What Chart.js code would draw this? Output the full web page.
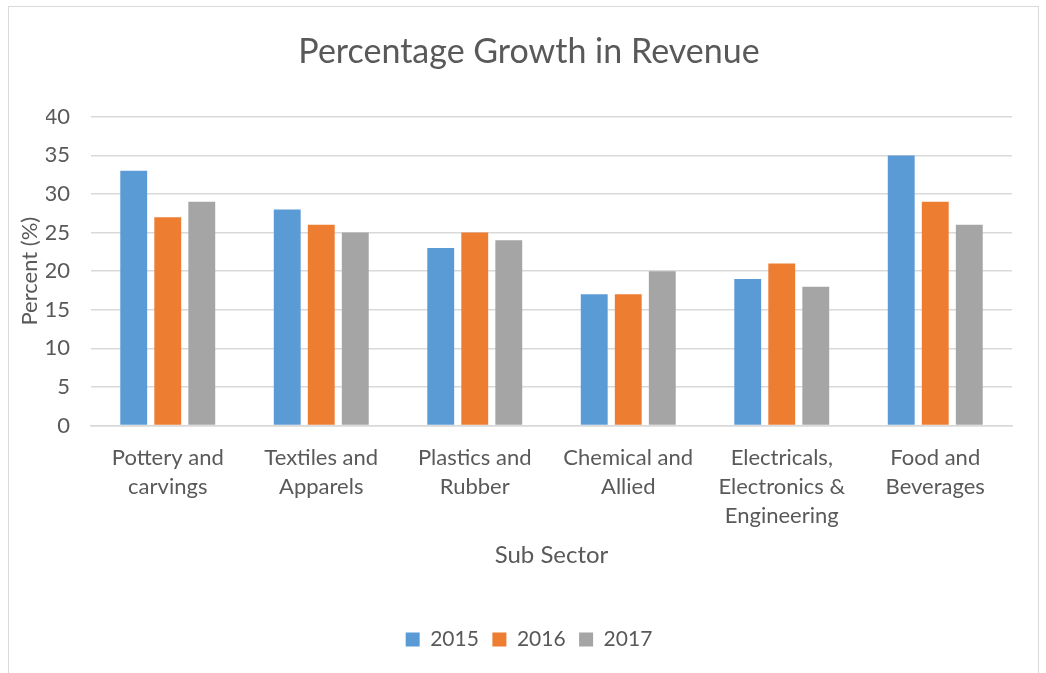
<!DOCTYPE html>
<html>
<head>
<meta charset="utf-8">
<script src="https://cdn.jsdelivr.net/npm/chart.js@4"></script>
<style>
  html, body { margin: 0; padding: 0; background: #fff; overflow: hidden; }
  #frame { position: absolute; left: 8px; top: 6px; width: 1031px; height: 700px; border: 1.5px solid #d9d9d9; box-sizing: border-box; }
  #wrap { position: absolute; left: 0; top: 0; width: 1046px; height: 673px; }
</style>
</head>
<body>
<div id="frame"></div>
<div id="wrap"><canvas id="revenueChart"></canvas></div>
<script>
// Growth in revenue per sub sector, by year
const sectors = [
  ['Pottery and', 'carvings'],
  ['Textiles and', 'Apparels'],
  ['Plastics and', 'Rubber'],
  ['Chemical and', 'Allied'],
  ['Electricals,', 'Electronics &', 'Engineering'],
  ['Food and', 'Beverages']
];
const years = ['2015', '2016', '2017'];
const growth2015 = [33, 28, 23, 17, 19, 35];
const growth2016 = [27, 26, 25, 17, 21, 29];
const growth2017 = [29, 25, 24, 20, 18, 26];
const yTicks = [0, 5, 10, 15, 20, 25, 30, 35, 40];

const textColor = '#595959';
const gridColor = '#d9d9d9';
const fontFamily = 'Lato, "Open Sans", sans-serif';

// y axis title sits out in the left margin, so the axis itself can stay narrow
const yTitlePlugin = {
  id: 'yTitle',
  afterDraw(chart) {
    const { ctx, chartArea } = chart;
    ctx.save();
    ctx.translate(30, (chartArea.top + chartArea.bottom) / 2);
    ctx.rotate(-Math.PI / 2);
    ctx.fillStyle = textColor;
    ctx.font = '22px ' + fontFamily;
    ctx.textAlign = 'center';
    ctx.textBaseline = 'middle';
    ctx.fillText('Percent (%)', 0, 0);
    ctx.restore();
  }
};

const ctx = document.getElementById('revenueChart').getContext('2d');
new Chart(ctx, {
  type: 'bar',
  data: {
    labels: sectors,
    datasets: [
      { label: years[0], data: growth2015, backgroundColor: '#5b9bd5' },
      { label: years[1], data: growth2016, backgroundColor: '#ed7d31' },
      { label: years[2], data: growth2017, backgroundColor: '#a5a5a5' }
    ]
  },
  plugins: [yTitlePlugin],
  options: {
    responsive: true,
    maintainAspectRatio: false,
    animation: false,
    layout: { padding: { left: 46, right: 34, top: 32, bottom: 13 } },
    datasets: { bar: { categoryPercentage: 0.665, barPercentage: 0.79 } },
    plugins: {
      title: {
        display: true,
        text: 'Percentage Growth in Revenue',
        color: textColor,
        font: { family: fontFamily, size: 34, weight: 'normal' },
        padding: { top: 0, bottom: 44 }
      },
      legend: {
        position: 'bottom',
        labels: {
          color: textColor,
          font: { family: fontFamily, size: 21 },
          boxWidth: 14,
          boxHeight: 14,
          padding: 13.5
        }
      },
      tooltip: { enabled: false }
    },
    scales: {
      y: {
        min: 0,
        max: 40,
        afterBuildTicks: axis => { axis.ticks = yTicks.map(v => ({ value: v })); },
        afterFit: axis => { axis.width = 45; },
        grid: { color: gridColor, lineWidth: 1.5, drawTicks: false },
        border: { display: false },
        ticks: { color: textColor, font: { family: fontFamily, size: 22 }, padding: 21 }
      },
      x: {
        grid: { display: false, drawTicks: false },
        border: { color: gridColor, width: 1.5 },
        ticks: { color: textColor, font: { family: fontFamily, size: 22, lineHeight: 1.32 }, padding: 18, maxRotation: 0 },
        title: {
          display: true,
          text: 'Sub Sector',
          color: textColor,
          font: { family: fontFamily, size: 24 },
          padding: { top: -8, bottom: 46 }
        }
      }
    }
  }
});
</script>
</body>
</html>
